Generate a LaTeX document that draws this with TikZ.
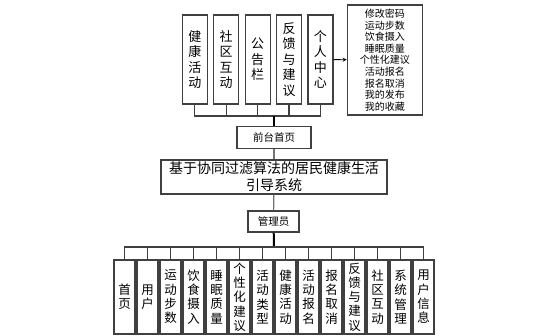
\documentclass[tikz,border=0pt]{standalone}
\usepackage{fontspec}
\setmainfont{Noto Sans CJK SC}
\usetikzlibrary{arrows}

\begin{document}
\begin{tikzpicture}[x=1pt,y=-1pt,
    box/.style={draw=black!75, line width=1.2pt, inner sep=0pt, align=center},
    topbox/.style={box, minimum width=25pt, minimum height=89pt, font=\fontsize{13}{15.6}\selectfont},
    lowbox/.style={box, minimum width=21pt, minimum height=74pt, font=\fontsize{12.5}{14.3}\selectfont},
    bus/.style={draw=black!75, line width=1.2pt},
    trunk/.style={draw=black, line width=2pt}]
    \fill[white] (0,0) rectangle (539,336);
    % front end
    \node[topbox] (t1) at (194.8,59.5) {健\\康\\活\\动};
    \node[topbox] (t2) at (226.2,59.5) {社\\区\\互\\动};
    \node[topbox] (t3) at (257.6,59.5) {公\\告\\栏};
    \node[topbox] (t4) at (289.0,59.5) {反\\馈\\与\\建\\议};
    \node[topbox] (t5) at (320.4,59.5) {个\\人\\中\\心};
    \node[box, minimum width=75pt, minimum height=110pt, font=\fontsize{10}{11.6}\selectfont] (mine) at (384.8,60)
        {修改密码\\运动步数\\饮食摄入\\睡眠质量\\个性化建议\\活动报名\\报名取消\\我的发布\\我的收藏};
    \node[box, minimum width=74pt, minimum height=22pt, font=\fontsize{10.5}{12}\selectfont] (front) at (274,137.5) {前台首页};
    \node[box, minimum width=226pt, minimum height=34pt, font=\fontsize{14}{17}\selectfont] (sys) at (274,177)
        {基于协同过滤算法的居民健康生活\\引导系统};
    \node[box, minimum width=51pt, minimum height=21pt, font=\fontsize{10.5}{12}\selectfont] (admin) at (273.5,221.5) {管理员};
    % back end
    \node[lowbox] (b1) at (124.5,297) {首\\页};
    \node[lowbox] (b2) at (147.5,297) {用\\户};
    \node[lowbox] (b3) at (170.5,297) {运\\动\\步\\数};
    \node[lowbox] (b4) at (193.5,297) {饮\\食\\摄\\入};
    \node[lowbox] (b5) at (216.5,297) {睡\\眠\\质\\量};
    \node[lowbox] (b6) at (239.5,297) {个\\性\\化\\建\\议};
    \node[lowbox] (b7) at (262.5,297) {活\\动\\类\\型};
    \node[lowbox] (b8) at (285.5,297) {健\\康\\活\\动};
    \node[lowbox] (b9) at (308.5,297) {活\\动\\报\\名};
    \node[lowbox] (b10) at (331.5,297) {报\\名\\取\\消};
    \node[lowbox] (b11) at (354.5,297) {反\\馈\\与\\建\\议};
    \node[lowbox] (b12) at (377.5,297) {社\\区\\互\\动};
    \node[lowbox] (b13) at (400.5,297) {系\\统\\管\\理};
    \node[lowbox] (b14) at (423.5,297) {用\\户\\信\\息};
    \coordinate (tbus) at (274,116);
    \coordinate (lbus) at (274,247);
    % connectors
    \draw[bus] (t1.south) |- (tbus) -| (t5.south);
    \draw[bus] (t2.south) -- (t2.south |- tbus) (t3.south) -- (t3.south |- tbus) (t4.south) -- (t4.south |- tbus);
    \draw[trunk] (tbus) -- (front.north);
    \draw[bus, draw=black!55] (front) -- (sys);
    \draw[bus, draw=black!55] (sys) -- (admin);
    \draw[trunk] (admin) -- (lbus);
    \draw[bus] (b1.north) |- (lbus) -| (b14.north);
    \draw[bus] (b2.north) -- (b2.north |- lbus) (b3.north) -- (b3.north |- lbus) (b4.north) -- (b4.north |- lbus)
        (b5.north) -- (b5.north |- lbus) (b6.north) -- (b6.north |- lbus) (b7.north) -- (b7.north |- lbus)
        (b8.north) -- (b8.north |- lbus) (b9.north) -- (b9.north |- lbus) (b10.north) -- (b10.north |- lbus)
        (b11.north) -- (b11.north |- lbus) (b12.north) -- (b12.north |- lbus) (b13.north) -- (b13.north |- lbus);
    \draw[thick,->,>=stealth] (t5) -- (mine);
\end{tikzpicture}
\end{document}
